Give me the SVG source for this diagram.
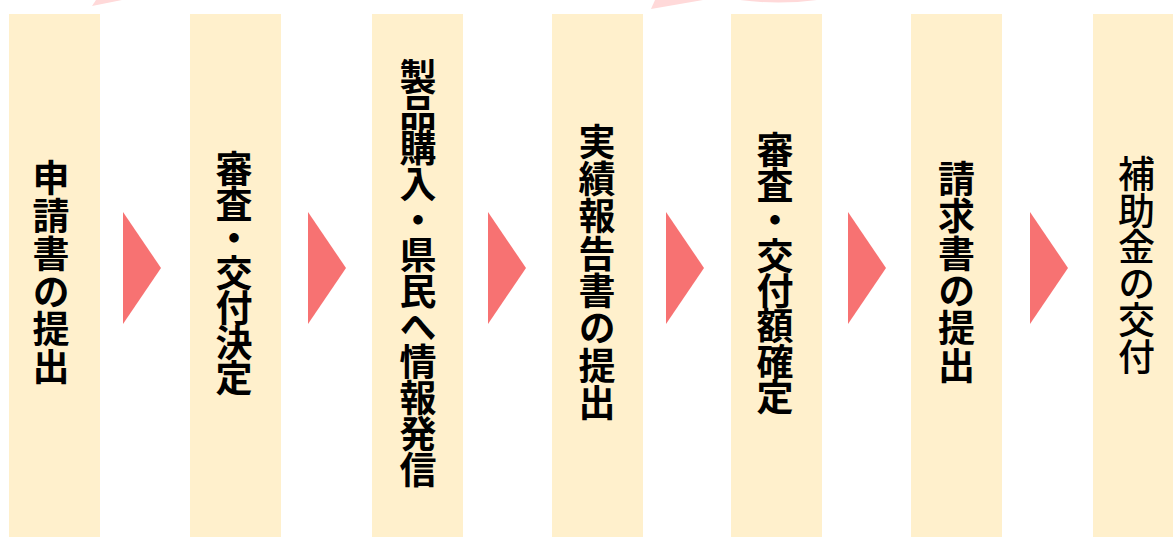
<svg xmlns="http://www.w3.org/2000/svg" width="1173" height="537" viewBox="0 0 1173 537">
<style>
.box{fill:#FFF0CC}
.arr{fill:#F77272}
.deco{fill:#FFD9D9}
.lbl{font-family:"Noto Sans CJK JP","Noto Sans CJK SC",sans-serif;font-size:37px;font-weight:700;fill:#000;writing-mode:vertical-rl;text-orientation:upright;text-anchor:middle;dominant-baseline:central}
</style>
<rect width="1173" height="537" fill="#FFFFFF"/>
<g id="decor">
<polygon class="deco" points="92,6 96,0 122,0"/>
<polygon class="deco" points="651,9 655,0 703,0"/>
<path class="deco" d="M740,0 Q778,5 817,0 Z"/>
</g>
<g id="node1"><rect class="box" x="9" y="14" width="91" height="523"/><text class="lbl" x="51" y="273" style="letter-spacing:0.8px">申請書の提出</text></g>
<g id="node2"><rect class="box" x="190" y="14" width="91" height="523"/><text class="lbl" x="234" y="272" style="letter-spacing:-2.2px">審査・交付決定</text></g>
<g id="node3"><rect class="box" x="372" y="14" width="91" height="523"/><text class="lbl" x="418" y="272.5" style="letter-spacing:-1.3px">製品購入・県民へ情報発信</text></g>
<g id="node4"><rect class="box" x="552" y="14" width="91" height="523"/><text class="lbl" x="597" y="272.5" style="letter-spacing:0.3px">実績報告書の提出</text></g>
<g id="node5"><rect class="box" x="731" y="14" width="91" height="523"/><text class="lbl" x="775" y="272.5" style="letter-spacing:-1.7px">審査・交付額確定</text></g>
<g id="node6"><rect class="box" x="911" y="14" width="91" height="523"/><text class="lbl" x="956.5" y="272.5" style="letter-spacing:0.4px">請求書の提出</text></g>
<g id="node7"><rect class="box" x="1093" y="14" width="80" height="523"/><text class="lbl" x="1136.5" y="265" style="letter-spacing:-0.5px;font-weight:500">補助金の交付</text></g>
<g id="connectors">
<polygon class="arr" points="123,212 161,268 123,324"/>
<polygon class="arr" points="308,212 346,268 308,324"/>
<polygon class="arr" points="488,212 526,268 488,324"/>
<polygon class="arr" points="666,212 704,268 666,324"/>
<polygon class="arr" points="848,212 886,268 848,324"/>
<polygon class="arr" points="1030,212 1068,268 1030,324"/>
</g>
</svg>
